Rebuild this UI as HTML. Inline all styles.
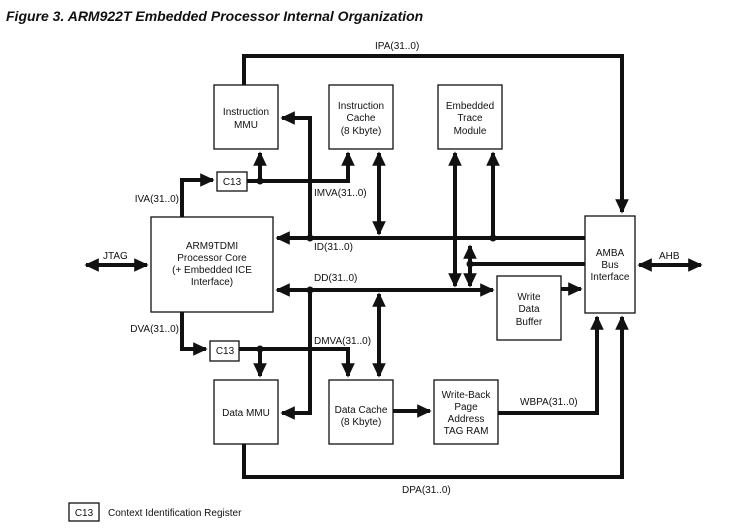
<!DOCTYPE html>
<html><head><meta charset="utf-8"><style>
body{margin:0;background:#fff;}
svg{display:block;font-family:"Liberation Sans",Arial,sans-serif;}
</style></head><body>
<svg width="736" height="529" viewBox="0 0 736 529" xmlns="http://www.w3.org/2000/svg">
<defs>
<marker id="a" markerWidth="4" markerHeight="4" refX="3.2" refY="2" orient="auto-start-reverse" markerUnits="strokeWidth"><path d="M0,0.3 L3.6,2 L0,3.7z" fill="#111"/></marker>
</defs>
<text x="6" y="21" font-size="14" font-weight="bold" font-style="italic" fill="#111">Figure 3. ARM922T Embedded Processor Internal Organization</text>
<g fill="#fff" stroke="#111" stroke-width="1.3">
<rect x="214" y="85" width="64" height="64"/>
<rect x="329" y="85" width="64" height="64"/>
<rect x="438" y="85" width="64" height="64"/>
<rect x="151" y="217" width="122" height="95"/>
<rect x="585" y="216" width="50" height="97"/>
<rect x="497" y="276" width="64" height="64"/>
<rect x="214" y="380" width="64" height="64"/>
<rect x="329" y="380" width="64" height="64"/>
<rect x="434" y="380" width="64" height="64"/>
<rect x="217" y="172" width="30" height="19"/>
<rect x="210" y="341" width="29" height="20"/>
<rect x="69" y="503" width="30" height="18"/>
</g>
<g fill="none" stroke="#111" stroke-width="4" stroke-linejoin="miter">
<path d="M244,85 V56 H622 V212" marker-end="url(#a)"/>
<path d="M182,217 V180 H213" marker-end="url(#a)"/>
<path d="M247,181 H348 V153" marker-end="url(#a)"/>
<path d="M260,181 V153" marker-end="url(#a)"/>
<path d="M585,238 H277" marker-end="url(#a)"/>
<path d="M310,238 V118 H282" marker-end="url(#a)"/>
<path d="M379,153 V234" marker-start="url(#a)" marker-end="url(#a)"/>
<path d="M455,153 V286" marker-start="url(#a)" marker-end="url(#a)"/>
<path d="M493,238 V153" marker-end="url(#a)"/>
<path d="M585,264 H470"/>
<path d="M470,246 V286" marker-start="url(#a)" marker-end="url(#a)"/>
<path d="M277,290 H493" marker-start="url(#a)" marker-end="url(#a)"/>
<path d="M310,290 V413 H282" marker-end="url(#a)"/>
<path d="M379,294 V376" marker-start="url(#a)" marker-end="url(#a)"/>
<path d="M561,289 H581" marker-end="url(#a)"/>
<path d="M182,312 V349 H206" marker-end="url(#a)"/>
<path d="M239,349 H348 V376" marker-end="url(#a)"/>
<path d="M260,349 V376" marker-end="url(#a)"/>
<path d="M393,411 H430" marker-end="url(#a)"/>
<path d="M498,413 H597 V317" marker-end="url(#a)"/>
<path d="M244,444 V477 H622 V317" marker-end="url(#a)"/>
<path d="M86,265 H147" marker-start="url(#a)" marker-end="url(#a)"/>
<path d="M639,265 H701" marker-start="url(#a)" marker-end="url(#a)"/>
</g>
<g fill="#111">
<circle cx="260" cy="181" r="3.5"/><circle cx="310" cy="238" r="3.5"/><circle cx="493" cy="238" r="3.5"/>
<circle cx="470" cy="264" r="3.5"/><circle cx="310" cy="290" r="3.5"/><circle cx="260" cy="349" r="3.5"/>
</g>
<g font-size="10" fill="#111" text-anchor="middle">
<text x="246" y="115">Instruction</text><text x="246" y="128">MMU</text>
<text x="361" y="109">Instruction</text><text x="361" y="121">Cache</text><text x="361" y="134">(8 Kbyte)</text>
<text x="470" y="109">Embedded</text><text x="470" y="121">Trace</text><text x="470" y="134">Module</text>
<text x="212" y="249">ARM9TDMI</text><text x="212" y="261">Processor Core</text><text x="212" y="273">(+ Embedded ICE</text><text x="212" y="285">Interface)</text>
<text x="610" y="256">AMBA</text><text x="610" y="268">Bus</text><text x="610" y="280">Interface</text>
<text x="529" y="300">Write</text><text x="529" y="312">Data</text><text x="529" y="325">Buffer</text>
<text x="246" y="416">Data MMU</text>
<text x="361" y="413">Data Cache</text><text x="361" y="425">(8 Kbyte)</text>
<text x="466" y="398">Write-Back</text><text x="466" y="410">Page</text><text x="466" y="422">Address</text><text x="466" y="434">TAG RAM</text>
<text x="232" y="185">C13</text><text x="225" y="354">C13</text><text x="84" y="516">C13</text>
</g>
<g font-size="10" fill="#111">
<text x="375" y="49">IPA(31..0)</text>
<text x="179" y="202" text-anchor="end">IVA(31..0)</text>
<text x="314" y="196">IMVA(31..0)</text>
<text x="314" y="250">ID(31..0)</text>
<text x="314" y="281">DD(31..0)</text>
<text x="179" y="332" text-anchor="end">DVA(31..0)</text>
<text x="314" y="344">DMVA(31..0)</text>
<text x="520" y="405">WBPA(31..0)</text>
<text x="402" y="493">DPA(31..0)</text>
<text x="103" y="259">JTAG</text>
<text x="659" y="259">AHB</text>
<text x="108" y="516">Context Identification Register</text>
</g>
</svg>
</body></html>
